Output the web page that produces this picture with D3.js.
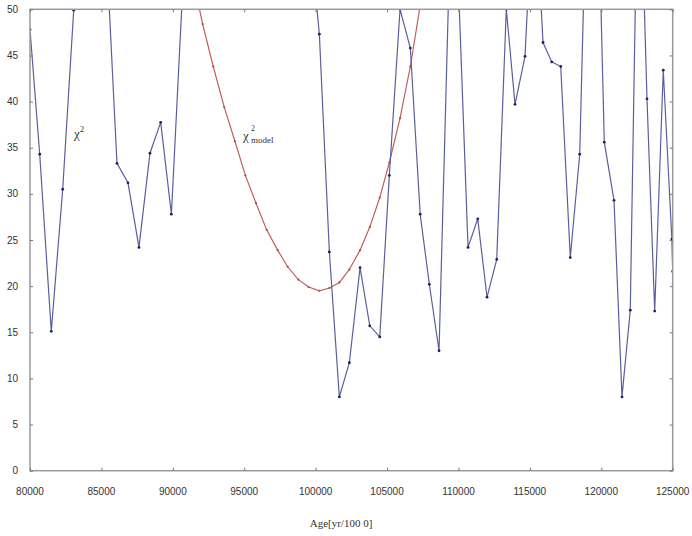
<!DOCTYPE html>
<html>
<head>
<meta charset="utf-8">
<script src="https://cdn.jsdelivr.net/npm/d3@7"></script>
<style>
  body { margin: 0; background: #fff; }
  svg { display: block; }
</style>
</head>
<body>
<svg id="chart" width="692" height="536"></svg>
<script>
// --- data (values above 50 fall outside the frame) ---
const chiAges = [80000, 80680, 81490, 82290, 83060, 83820, 84570, 85330, 86090, 86860,
  87630, 88400, 89150, 89900, 90650, 91370, 92090, 92830, 93600, 94350,
  95080, 95820, 96570, 97340, 98040, 98790, 99510, 100260, 100960, 101660,
  102360, 103110, 103790, 104490, 105160, 105910, 106630, 107320, 107960, 108640,
  109300, 109990, 110670, 111350, 112000, 112680, 113350, 113960, 114660, 115290,
  115920, 116530, 117160, 117830, 118490, 119070, 119630, 120210, 120890, 121450,
  122030, 122610, 123200, 123740, 124340, 124940, 125000];
const chiValues = [47.8, 34.3, 15.1, 30.5, 49.9, 70, 66, 57, 33.3, 31.2,
  24.2, 34.4, 37.75, 27.8, 50.9, 68, 75, 72, 80, 74,
  82, 76, 70, 78, 72, 66, 59.6, 47.3, 23.7, 8.0,
  11.7, 22.0, 15.7, 14.5, 32.0, 50.0, 45.8, 27.8, 20.2, 13.0,
  51, 53, 24.2, 27.3, 18.8, 22.9, 50.0, 39.7, 44.9, 65,
  46.4, 44.3, 43.8, 23.1, 34.3, 70, 72, 35.6, 29.3, 8.0,
  17.4, 72, 40.3, 17.3, 43.4, 25.1, 21.6];

const modelAges = [91370, 92090, 92830, 93600, 94350, 95080, 95820, 96570, 97340, 98040,
  98790, 99510, 100260, 100960, 101660, 102360, 103110, 103790, 104490, 105160,
  105910, 106630, 107320];
const modelValues = [53.6, 48.4, 43.8, 39.4, 35.7, 32.0, 29.0, 26.1, 23.9, 22.1,
  20.7, 19.9, 19.5, 19.8, 20.4, 21.8, 23.9, 26.4, 29.6, 33.4,
  38.2, 43.8, 50.4];

const xTicks = [80000, 85000, 90000, 95000, 100000, 105000, 110000, 115000, 120000, 125000];
const yTicks = [0, 5, 10, 15, 20, 25, 30, 35, 40, 45, 50];

const svg = d3.select("#chart");
const mLeft = 30, mRight = 672.7, mTop = 9.3, mBottom = 470.7;

const x = d3.scaleLinear().domain([80000, 125000]).range([mLeft, mRight]);
const y = d3.scaleLinear().domain([0, 50]).range([mBottom, mTop]);

svg.append("defs").append("clipPath").attr("id", "plotClip")
  .append("rect")
  .attr("x", mLeft).attr("y", mTop)
  .attr("width", mRight - mLeft).attr("height", mBottom - mTop);

const chi = chiAges.map((a, i) => ({ a: a, v: chiValues[i] }));
const model = modelAges.map((a, i) => ({ a: a, v: modelValues[i] }));

const line = d3.line().x(d => x(d.a)).y(d => y(d.v));

const plot = svg.append("g").attr("clip-path", "url(#plotClip)");

// model curve (red)
plot.append("path")
  .datum(model)
  .attr("d", line)
  .attr("fill", "none")
  .attr("stroke", "#c0605a")
  .attr("stroke-width", 1.2);

plot.selectAll(".mdot").data(model).enter().append("circle")
  .attr("cx", d => x(d.a)).attr("cy", d => y(d.v))
  .attr("r", 1.1)
  .attr("fill", "#a0504a");

// chi^2 series (blue)
plot.append("path")
  .datum(chi)
  .attr("d", line)
  .attr("fill", "none")
  .attr("stroke", "#5a5f9c")
  .attr("stroke-width", 1.2);

plot.selectAll(".cdot").data(chi).enter().append("circle")
  .attr("cx", d => x(d.a)).attr("cy", d => y(d.v))
  .attr("r", 1.4)
  .attr("fill", "#20205a");

// --- frame and inward ticks ---
const frameColor = "#9a9a9a";
svg.append("rect")
  .attr("x", mLeft).attr("y", mTop)
  .attr("width", mRight - mLeft).attr("height", mBottom - mTop)
  .attr("fill", "none")
  .attr("stroke", frameColor)
  .attr("stroke-width", 1.5);

const bottomAxis = d3.axisBottom(x).tickValues(xTicks).tickSize(-3).tickFormat("");
const topAxis = d3.axisTop(x).tickValues(xTicks).tickSize(-3).tickFormat("");
const leftAxis = d3.axisLeft(y).tickValues(yTicks).tickSize(-3).tickFormat("");
const rightAxis = d3.axisRight(y).tickValues(yTicks).tickSize(-3).tickFormat("");

[[bottomAxis, `translate(0,${mBottom})`], [topAxis, `translate(0,${mTop})`],
 [leftAxis, `translate(${mLeft},0)`], [rightAxis, `translate(${mRight},0)`]].forEach(([ax, tr]) => {
  const g = svg.append("g").attr("transform", tr).call(ax);
  g.select(".domain").remove();
  g.selectAll("line").attr("stroke", "#777");
});

// tick labels
svg.append("g").selectAll("text").data(xTicks).enter().append("text")
  .attr("x", d => x(d)).attr("y", 495)
  .attr("text-anchor", "middle")
  .attr("font-family", "Liberation Sans, Arial, sans-serif")
  .attr("font-size", 10)
  .attr("fill", "#333")
  .text(d => d);

svg.append("g").selectAll("text").data(yTicks).enter().append("text")
  .attr("x", 18).attr("y", d => y(d) + 3.5)
  .attr("text-anchor", "end")
  .attr("font-family", "Liberation Sans, Arial, sans-serif")
  .attr("font-size", 10)
  .attr("fill", "#333")
  .text(d => d);

// axis title
svg.append("text")
  .attr("x", 341).attr("y", 527)
  .attr("text-anchor", "middle")
  .attr("font-family", "Liberation Serif, Times New Roman, serif")
  .attr("font-size", 11)
  .attr("fill", "#333")
  .text("Age[yr/100 0]");

// series labels
const serif = "Liberation Serif, Times New Roman, serif";
const lab1 = svg.append("text")
  .attr("x", 74).attr("y", 138)
  .attr("font-family", serif).attr("font-size", 13).attr("fill", "#333");
lab1.append("tspan").text("χ");
lab1.append("tspan").attr("font-size", 9).attr("dy", -6).text("2");

const lab2 = svg.append("g").attr("font-family", serif).attr("fill", "#333");
lab2.append("text").attr("x", 243).attr("y", 140).attr("font-size", 13).text("χ");
lab2.append("text").attr("x", 251).attr("y", 131).attr("font-size", 8).text("2");
lab2.append("text").attr("x", 251).attr("y", 143).attr("font-size", 9).text("model");
</script>
</body>
</html>
